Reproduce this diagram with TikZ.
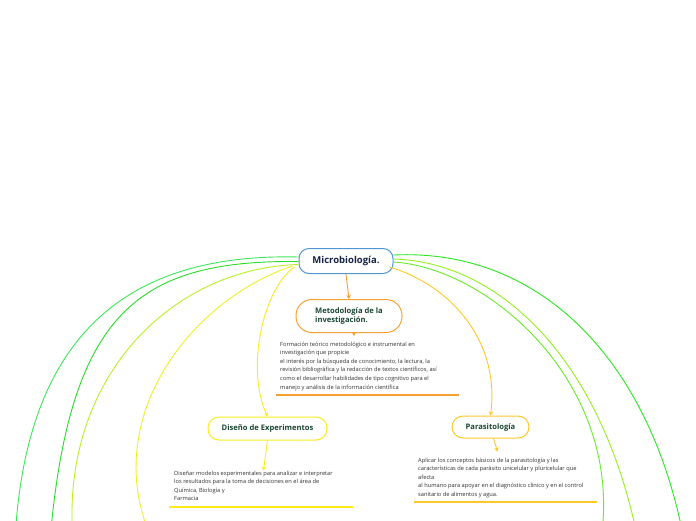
\documentclass[tikz,border=0pt]{standalone}
\usepackage{fontspec}
\setmainfont{Open Sans}
\usetikzlibrary{arrows.meta}
\definecolor{cA}{RGB}{60,232,90}
\definecolor{cB}{RGB}{40,220,40}
\definecolor{cC}{RGB}{185,240,40}
\definecolor{cD}{RGB}{235,242,40}
\definecolor{cE}{RGB}{252,236,30}
\definecolor{cF}{RGB}{40,232,30}
\definecolor{cG}{RGB}{150,240,30}
\definecolor{cH}{RGB}{105,235,40}
\definecolor{cPar}{RGB}{255,200,40}
\definecolor{cOr}{RGB}{247,160,50}
\definecolor{cBlue}{RGB}{80,150,210}
\definecolor{cTitle}{RGB}{25,70,50}
\definecolor{cNavy}{RGB}{20,35,70}
\definecolor{cTxt}{RGB}{50,50,50}
\tikzset{
  branch/.style={line width=0.9pt},
  topicbox/.style={draw, rounded corners=11pt, line width=1pt, fill=white, inner sep=0pt, text=cTitle, font=\fontsize{7.6}{9.5}\selectfont\bfseries},
  note/.style={anchor=north west, inner sep=0pt, align=left, text=cTxt, font=\fontsize{5.7}{8.6}\selectfont},
  tip/.style={-{Stealth[length=4pt,width=4.5pt]}},
}
\begin{document}
\begin{tikzpicture}[x=1pt,y=-1pt]
\clip (0,0) rectangle (696,520);
\fill[white] (0,0) rectangle (696,520);

% nodes
\node[draw=cBlue, line width=1pt, rounded corners=10pt, fill=white, minimum width=94pt, minimum height=25pt, inner sep=0pt, text=cNavy, font=\fontsize{9.5}{11}\selectfont\bfseries] (micro) at (346,261) {Microbiología.};
\node[topicbox, draw=cOr, rounded corners=16pt, minimum width=106pt, minimum height=33pt, align=left] (metod) at (349,316) {Metodología de la\\investigación.};
\node[topicbox, draw=cE, minimum width=119pt, minimum height=23pt] (disen) at (267.5,428.5) {Diseño de Experimentos};
\node[topicbox, draw=cPar, minimum width=77pt, minimum height=22pt] (paras) at (490.5,427) {Parasitología};

\node[note] (t1) at (280,341.5) {Formación teórico metodológico e instrumental en\\investigación que propicie\\el interés por la búsqueda de conocimiento, la lectura, la\\revisión bibliográfica y la redacción de textos científicos, así\\como el desarrollar habilidades de tipo cognitivo para el\\manejo y análisis de la información científica};
\node[note] (t2) at (174,470.5) {Diseñar modelos experimentales para analizar e interpretar\\los resultados para la toma de decisiones en el área de\\Química, Biología y\\Farmacia};
\node[note] (t3) at (418,457.5) {Aplicar los conceptos básicos de la parasitología y las\\características de cada parásito unicelular y pluricelular que\\afecta\\al humano para apoyar en el diagnóstico clínico y en el control\\sanitario de alimentos y agua.};

% underlines
\draw[cOr, line width=2pt] (276,395) -- (459,395);
\draw[cE, line width=2pt] (169,507) -- (353,507);
\draw[cPar, line width=2pt] (414,502) -- (597,502);

% free ends below the picture
\coordinate (eA) at (15,540);
\coordinate (eB) at (50,540);
\coordinate (eC) at (73,540);
\coordinate (eD) at (152,540);
\coordinate (eF) at (684,540);
\coordinate (eG) at (638,540);
\coordinate (eH) at (601,540);

% left branches
\draw[branch, cA] ([yshift=4pt]micro.west) .. controls (132,253) and (26,330) .. (eA);
\draw[branch, cB] ([yshift=-0.5pt]micro.west) .. controls (140,260) and (70,310) .. (eB);
\draw[branch, cC] ([yshift=-3.5pt]micro.west) .. controls (170,268) and (60,380) .. (eC);
\draw[branch, cD] ([xshift=-6pt,yshift=-5pt]micro.west) .. controls (190,300) and (98,420) .. (eD);
\draw[branch, cE, tip] ([xshift=-4pt,yshift=-6pt]micro.west) .. controls (262,290) and (246,370) .. (disen.north);

% right branches
\draw[branch, cF] ([yshift=6pt]micro.east) .. controls (540,248) and (650,360) .. (eF);
\draw[branch, cG] ([yshift=2pt]micro.east) .. controls (500,262) and (602,360) .. (eG);
\draw[branch, cH] ([yshift=-1pt]micro.east) .. controls (490,268) and (624,385) .. (eH);
\draw[branch, cPar, tip] ([xshift=-4pt,yshift=-6pt]micro.east) .. controls (450,285) and (500,340) .. (paras.north);

% short arrows
\draw[cOr, line width=0.9pt, tip] (micro.south) -- (metod.north);
\draw[cOr, line width=0.9pt, tip] ([xshift=5pt]metod.south) -- ([xshift=5pt,yshift=-3pt]metod.south);
\draw[cE, line width=0.9pt, tip] (disen.south) -- ([xshift=-4pt]t2.north -| disen.south);
\draw[cPar, line width=0.9pt, tip] ([xshift=3pt]paras.south) -- ([xshift=7pt,yshift=-13pt]paras.south);
\end{tikzpicture}
\end{document}
